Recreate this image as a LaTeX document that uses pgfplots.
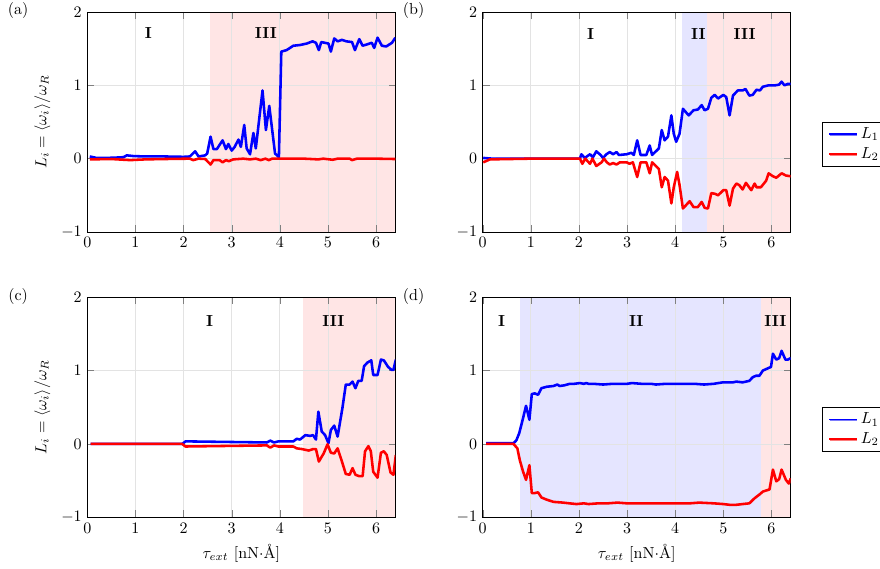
\documentclass[border=0pt]{standalone}
\usepackage{pgfplots}
\pgfplotsset{compat=1.18}
\usetikzlibrary{shadows}
\tikzset{reg/.style={font=\bfseries}}
\begin{document}
\begin{tikzpicture}
\pgfplotsset{
  panel/.style={
    scale only axis, width=192.5pt, height=137.5pt,
    xmin=0, xmax=6.4, ymin=-1, ymax=2,
    xtick={0,1,2,3,4,5,6}, ytick={-1,0,1,2},
    grid=major, grid style={gray!22, line width=0.5pt},
    set layers, anchor=south west,
    legend style={draw=black, at={(1.101,0.502)}, anchor=north west, cells={anchor=west}, inner xsep=4pt, inner ysep=1.5pt,
      drop shadow={shadow xshift=0.3pt, shadow yshift=-0.6pt, fill=gray!60}},
    legend image post style={line width=1.1pt},
  },
  Lone/.style={blue, line width=1.6pt, line join=round},
  Ltwo/.style={red, line width=1.6pt, line join=round},
  shadeR/.style={fill=red!10, draw=none, on layer=axis background, forget plot},
  shadeB/.style={fill=blue!10, draw=none, on layer=axis background, forget plot},
}
% (a)
\begin{axis}[panel, at={(54.6pt,210.6pt)}, ylabel={$L_i = \langle \omega_i \rangle / \omega_R$}]
\addplot[shadeR] coordinates {(2.55,-1) (6.4,-1) (6.4,2) (2.55,2)} -- cycle;
\addplot[Lone] coordinates {(0.05,0.03) (0.19,0.01) (0.4,0.01) (0.6,0.015) (0.75,0.02) (0.82,0.045) (0.96,0.035) (1.2,0.03) (1.6,0.03) (2.0,0.025) (2.13,0.03) (2.24,0.1) (2.31,0.03) (2.45,0.045) (2.49,0.07) (2.56,0.3) (2.62,0.13) (2.69,0.13) (2.81,0.25) (2.88,0.13) (2.93,0.2) (3.0,0.11) (3.06,0.16) (3.14,0.26) (3.19,0.16) (3.26,0.46) (3.31,0.14) (3.38,0.06) (3.45,0.35) (3.5,0.14) (3.64,0.93) (3.71,0.39) (3.78,0.72) (3.9,0.07) (3.98,0.02) (4.03,1.46) (4.14,1.48) (4.28,1.54) (4.42,1.55) (4.56,1.57) (4.68,1.6) (4.75,1.58) (4.81,1.48) (4.86,1.59) (5.01,1.57) (5.06,1.46) (5.13,1.64) (5.2,1.6) (5.29,1.62) (5.38,1.6) (5.5,1.59) (5.56,1.48) (5.65,1.63) (5.72,1.54) (5.82,1.56) (5.91,1.58) (5.96,1.51) (6.03,1.65) (6.12,1.54) (6.21,1.53) (6.33,1.58) (6.4,1.65)};
\addplot[Ltwo] coordinates {(0.05,-0.01) (0.5,-0.005) (0.89,-0.02) (1.2,-0.01) (1.6,-0.005) (2.13,0) (2.2,-0.02) (2.31,0) (2.45,-0.005) (2.56,-0.08) (2.62,-0.02) (2.75,-0.02) (2.81,-0.05) (2.88,-0.02) (2.94,-0.035) (3.03,-0.01) (3.24,0) (3.38,-0.01) (3.5,0) (3.6,-0.02) (3.7,0) (3.77,-0.02) (3.84,0) (4.0,0) (4.5,0) (4.8,-0.01) (4.9,0) (5.1,-0.015) (5.2,0) (5.45,0) (5.5,-0.02) (5.6,0) (6.0,0) (6.4,-0.005)};
\node[reg] at (axis cs:1.27,1.71) {I};
\node[reg] at (axis cs:3.71,1.71) {III};
\end{axis}
% (b)
\begin{axis}[panel, at={(301.7pt,210.6pt)}]
\addplot[shadeB] coordinates {(4.15,-1) (4.67,-1) (4.67,2) (4.15,2)} -- cycle;
\addplot[shadeR] coordinates {(4.67,-1) (6.4,-1) (6.4,2) (4.67,2)} -- cycle;
\addplot[Lone] coordinates {(0.01,0.01) (0.2,0) (1.0,0) (2.02,0) (2.05,0.06) (2.12,0.01) (2.23,0.06) (2.29,0.02) (2.36,0.1) (2.45,0.05) (2.5,0.01) (2.57,0.06) (2.64,0.09) (2.71,0.06) (2.78,0.09) (2.83,0.05) (2.99,0.06) (3.09,0.08) (3.14,0.05) (3.21,0.25) (3.28,0.05) (3.4,0.05) (3.47,0.18) (3.52,0.05) (3.66,0.14) (3.72,0.39) (3.78,0.25) (3.85,0.3) (3.92,0.59) (3.97,0.34) (4.02,0.23) (4.09,0.34) (4.16,0.68) (4.28,0.59) (4.38,0.66) (4.47,0.67) (4.55,0.73) (4.61,0.66) (4.68,0.68) (4.75,0.83) (4.82,0.87) (4.89,0.82) (5.0,0.87) (5.06,0.84) (5.13,0.59) (5.2,0.86) (5.3,0.93) (5.4,0.93) (5.46,0.95) (5.54,0.86) (5.61,0.87) (5.69,0.94) (5.76,0.93) (5.82,0.98) (5.94,1.0) (6.08,1.0) (6.16,1.01) (6.21,1.05) (6.27,1.0) (6.34,1.02) (6.4,1.02)};
\addplot[Ltwo] coordinates {(0.01,-0.05) (0.15,-0.01) (1.0,0) (2.02,0) (2.07,-0.07) (2.13,0) (2.23,-0.07) (2.28,0) (2.36,-0.1) (2.47,-0.05) (2.52,0) (2.58,-0.05) (2.64,-0.08) (2.71,-0.06) (2.78,-0.08) (2.85,-0.05) (2.99,-0.05) (3.05,-0.07) (3.12,-0.05) (3.21,-0.25) (3.28,-0.05) (3.4,-0.05) (3.47,-0.2) (3.52,-0.05) (3.66,-0.14) (3.72,-0.39) (3.78,-0.25) (3.85,-0.3) (3.92,-0.61) (3.97,-0.39) (4.04,-0.18) (4.09,-0.36) (4.16,-0.68) (4.3,-0.58) (4.38,-0.66) (4.47,-0.66) (4.55,-0.59) (4.61,-0.67) (4.68,-0.68) (4.75,-0.47) (4.83,-0.48) (4.89,-0.5) (5.0,-0.43) (5.06,-0.43) (5.13,-0.64) (5.2,-0.41) (5.27,-0.34) (5.33,-0.36) (5.4,-0.42) (5.47,-0.33) (5.58,-0.43) (5.65,-0.34) (5.69,-0.39) (5.78,-0.39) (5.89,-0.3) (5.94,-0.2) (6.03,-0.24) (6.1,-0.26) (6.21,-0.2) (6.3,-0.23) (6.4,-0.24)};
\addlegendentry{$L_1$}
\addlegendentry{$L_2$}
\node[reg] at (axis cs:2.24,1.7) {I};
\node[reg] at (axis cs:4.48,1.7) {II};
\node[reg] at (axis cs:5.44,1.7) {III};
\end{axis}
% (c)
\begin{axis}[panel, at={(54.6pt,32.3pt)}, ylabel={$L_i = \langle \omega_i \rangle / \omega_R$}, xlabel={$\tau_{ext}$ [nN$\cdot$\AA]}]
\addplot[shadeR] coordinates {(4.48,-1) (6.4,-1) (6.4,2) (4.48,2)} -- cycle;
\addplot[Lone] coordinates {(0.07,0) (1.97,0) (2.04,0.035) (3.73,0.02) (3.8,0.045) (3.88,0.02) (3.97,0.035) (4.28,0.035) (4.35,0.07) (4.42,0.06) (4.53,0.12) (4.63,0.11) (4.69,0.12) (4.75,0.06) (4.8,0.44) (4.87,0.17) (4.94,0.12) (5.01,0.01) (5.06,0.19) (5.13,0.25) (5.2,0.1) (5.3,0.49) (5.37,0.81) (5.45,0.81) (5.51,0.85) (5.57,0.76) (5.63,0.86) (5.7,0.86) (5.75,1.06) (5.82,1.11) (5.9,1.14) (5.94,0.94) (6.03,0.94) (6.1,1.15) (6.16,1.14) (6.25,1.05) (6.32,1.01) (6.36,1.01) (6.41,1.15)};
\addplot[Ltwo] coordinates {(0.07,0) (1.97,0) (2.04,-0.035) (3.73,-0.02) (3.8,-0.05) (3.88,-0.02) (3.97,-0.035) (4.28,-0.035) (4.35,-0.06) (4.46,-0.07) (4.6,-0.09) (4.69,-0.07) (4.75,-0.07) (4.81,-0.24) (4.91,-0.13) (4.99,-0.005) (5.06,-0.12) (5.13,-0.13) (5.2,-0.06) (5.29,-0.24) (5.37,-0.41) (5.45,-0.42) (5.51,-0.33) (5.57,-0.42) (5.65,-0.44) (5.72,-0.44) (5.77,-0.1) (5.84,-0.03) (5.89,-0.1) (5.94,-0.38) (6.03,-0.46) (6.1,-0.12) (6.16,-0.1) (6.22,-0.15) (6.3,-0.39) (6.36,-0.42) (6.41,-0.15)};
\node[reg] at (axis cs:2.54,1.67) {I};
\node[reg] at (axis cs:5.11,1.67) {III};
\end{axis}
% (d)
\begin{axis}[panel, at={(301.7pt,32.3pt)}, xlabel={$\tau_{ext}$ [nN$\cdot$\AA]}]
\addplot[shadeB] coordinates {(0.77,-1) (5.78,-1) (5.78,2) (0.77,2)} -- cycle;
\addplot[shadeR] coordinates {(5.78,-1) (6.4,-1) (6.4,2) (5.78,2)} -- cycle;
\addplot[Lone] coordinates {(0.07,0.01) (0.3,0.01) (0.64,0.01) (0.7,0.05) (0.76,0.15) (0.83,0.33) (0.9,0.52) (0.97,0.33) (1.02,0.68) (1.08,0.69) (1.15,0.67) (1.22,0.76) (1.33,0.78) (1.47,0.79) (1.55,0.81) (1.6,0.79) (1.7,0.8) (1.81,0.82) (1.9,0.82) (2.02,0.83) (2.1,0.82) (2.15,0.83) (2.2,0.82) (2.3,0.82) (2.5,0.81) (2.7,0.82) (3.0,0.82) (3.1,0.83) (3.3,0.82) (3.5,0.82) (3.6,0.81) (3.8,0.82) (4.0,0.82) (4.2,0.82) (4.4,0.82) (4.6,0.81) (4.8,0.82) (4.99,0.84) (5.2,0.84) (5.27,0.85) (5.4,0.84) (5.54,0.86) (5.61,0.91) (5.68,0.93) (5.75,0.93) (5.82,1.0) (5.92,1.03) (5.99,1.05) (6.03,1.23) (6.1,1.15) (6.16,1.17) (6.21,1.27) (6.29,1.15) (6.34,1.15) (6.4,1.17)};
\addplot[Ltwo] coordinates {(0.07,0) (0.64,0) (0.72,-0.06) (0.77,-0.22) (0.84,-0.38) (0.9,-0.49) (0.97,-0.29) (1.02,-0.67) (1.08,-0.67) (1.15,-0.66) (1.22,-0.73) (1.33,-0.76) (1.47,-0.79) (1.67,-0.8) (1.8,-0.81) (1.95,-0.82) (2.1,-0.81) (2.2,-0.82) (2.4,-0.81) (2.6,-0.81) (2.8,-0.8) (3.0,-0.81) (3.2,-0.81) (3.5,-0.81) (3.8,-0.81) (4.0,-0.81) (4.3,-0.81) (4.5,-0.8) (4.8,-0.81) (5.0,-0.82) (5.13,-0.83) (5.27,-0.83) (5.4,-0.82) (5.54,-0.81) (5.65,-0.74) (5.75,-0.69) (5.82,-0.65) (5.96,-0.62) (6.03,-0.35) (6.1,-0.51) (6.16,-0.48) (6.21,-0.35) (6.3,-0.49) (6.36,-0.54) (6.4,-0.47)};
\addlegendentry{$L_1$}
\addlegendentry{$L_2$}
\node[reg] at (axis cs:0.39,1.67) {I};
\node[reg] at (axis cs:3.19,1.67) {II};
\node[reg] at (axis cs:6.08,1.67) {III};
\end{axis}
\node at (11.3pt,348.8pt) {(a)};
\node at (258.5pt,348.8pt) {(b)};
\node at (11.3pt,170.5pt) {(c)};
\node at (258.5pt,170.5pt) {(d)};
\pgfresetboundingbox
\path[use as bounding box] (0,0) rectangle (550pt,355.6pt);
\end{tikzpicture}
\end{document}
